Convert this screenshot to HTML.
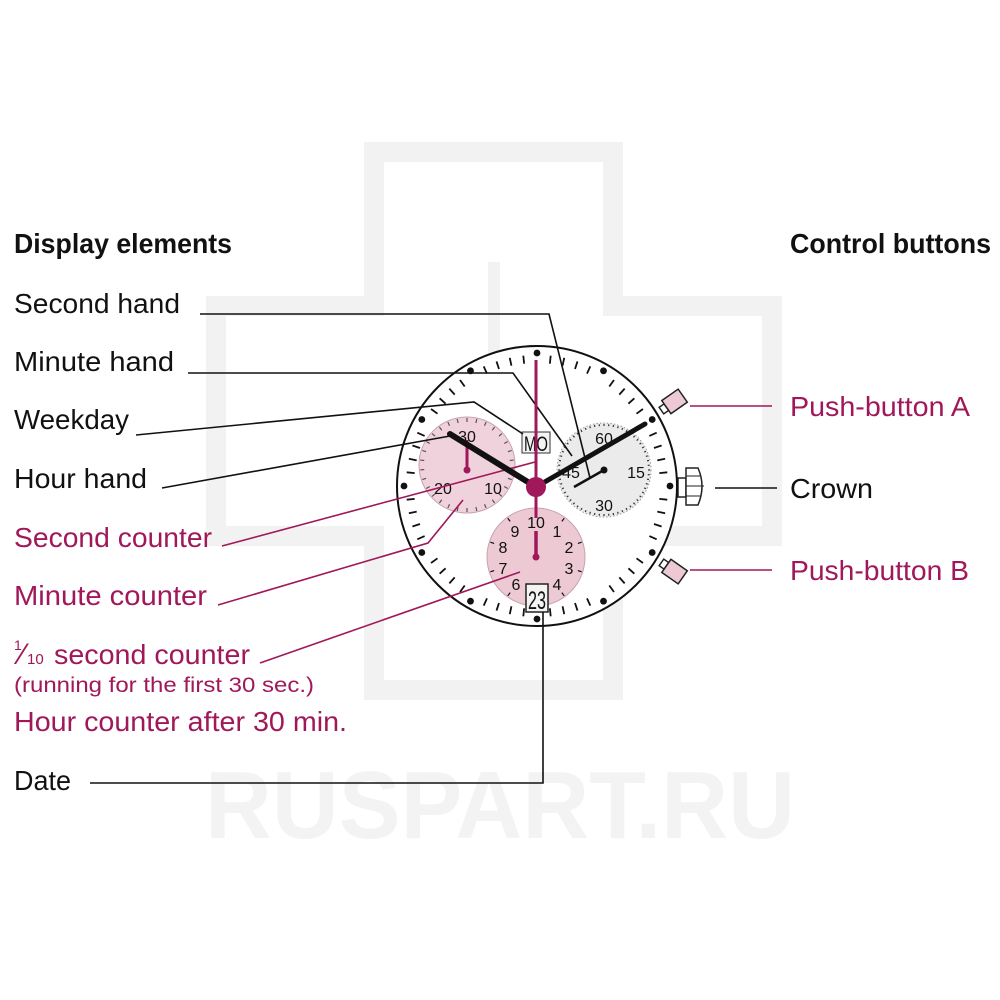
<!DOCTYPE html>
<html><head><meta charset="utf-8"><style>
html,body{margin:0;padding:0;background:#fff}
svg{display:block}
text{font-family:"Liberation Sans",sans-serif}
</style></head><body>
<svg id="s" width="1000" height="1000" viewBox="0 0 1000 1000" xmlns="http://www.w3.org/2000/svg">
<!-- watermark -->
<g fill="none" stroke="#f2f2f2" stroke-width="20">
<path d="M374 152 H613 V306 H772 V536 H613 V690 H374 V536 H216 V306 H374 Z"/>
<path d="M494 262 V420" stroke-width="12"/>
</g>
<text x="500" y="838" text-anchor="middle" font-size="96" font-weight="bold" fill="#f3f3f3" textLength="590" lengthAdjust="spacingAndGlyphs">RUSPART.RU</text>

<!-- labels -->
<g font-size="28" fill="#111">
<text x="14" y="253" font-weight="bold" textLength="218" lengthAdjust="spacingAndGlyphs">Display elements</text>
<text x="790" y="253" font-weight="bold" textLength="201" lengthAdjust="spacingAndGlyphs">Control buttons</text>
<text x="14" y="313" textLength="166" lengthAdjust="spacingAndGlyphs">Second hand</text>
<text x="14" y="371" textLength="160" lengthAdjust="spacingAndGlyphs">Minute hand</text>
<text x="14" y="429" textLength="115" lengthAdjust="spacingAndGlyphs">Weekday</text>
<text x="14" y="488" textLength="133" lengthAdjust="spacingAndGlyphs">Hour hand</text>
<text x="14" y="790" textLength="57" lengthAdjust="spacingAndGlyphs">Date</text>
<text x="790" y="498" textLength="83" lengthAdjust="spacingAndGlyphs">Crown</text>
</g>
<g font-size="28" fill="#a0185a">
<text x="14" y="547" textLength="198" lengthAdjust="spacingAndGlyphs">Second counter</text>
<text x="14" y="605" textLength="193" lengthAdjust="spacingAndGlyphs">Minute counter</text>
<text x="14" y="650" font-size="14">1</text>
<text x="20" y="664" font-size="30">⁄</text>
<text x="27" y="664" font-size="15">10</text>
<text x="54" y="664" textLength="196" lengthAdjust="spacingAndGlyphs">second counter</text>
<text x="14" y="692" font-size="21" textLength="300" lengthAdjust="spacingAndGlyphs">(running for the first 30 sec.)</text>
<text x="14" y="731" textLength="333" lengthAdjust="spacingAndGlyphs">Hour counter after 30 min.</text>
<text x="790" y="416" textLength="180" lengthAdjust="spacingAndGlyphs">Push-button A</text>
<text x="790" y="580" textLength="179" lengthAdjust="spacingAndGlyphs">Push-button B</text>
</g>

<!-- buttons -->
<g stroke="#222" stroke-width="1.5">
<g transform="translate(668,406) rotate(-35)"><rect x="-8" y="-4" width="6" height="8" fill="#fff"/><rect x="-2" y="-8" width="20" height="16" fill="#ecc9d3"/></g>
<g transform="translate(668,567) rotate(35)"><rect x="-8" y="-4" width="6" height="8" fill="#fff"/><rect x="-2" y="-8" width="20" height="16" fill="#ecc9d3"/></g>
<rect x="678" y="478" width="8" height="19" fill="#fff"/>
<path d="M686 468 H698 Q706 486 698 505 H686 Z" fill="#fff"/>
<path d="M686 476 H701 M686 486 H704 M686 496 H701" fill="none" stroke-width="1"/>
</g>

<!-- case -->
<circle cx="537" cy="486" r="140" fill="#fff" stroke="#111" stroke-width="2"/>
<g id="ticks"></g>

<!-- subdials -->
<circle cx="467" cy="465" r="48" fill="#f0d2dc" stroke="#c9a0b0" stroke-width="1"/>
<circle cx="604" cy="470" r="47" fill="#ebebeb" stroke="#999" stroke-width="1" stroke-dasharray="1.5 2"/>
<circle cx="536" cy="557" r="49" fill="#ecc9d3" stroke="#c9a0b0" stroke-width="1"/>
<g id="subt"></g>
<g font-size="16" fill="#111" text-anchor="middle">
<text x="467" y="442">30</text><text x="443" y="494">20</text><text x="493" y="494">10</text>
<text x="604" y="444">60</text><text x="636" y="478">15</text><text x="604" y="511">30</text><text x="571" y="478">45</text>
<text x="536" y="528">10</text><text x="557" y="537">1</text><text x="569" y="553">2</text>
<text x="569" y="574">3</text><text x="557" y="590">4</text><text x="516" y="590">6</text>
<text x="503" y="574">7</text><text x="503" y="553">8</text><text x="515" y="537">9</text>
</g>
<rect x="522" y="432" width="28" height="21" fill="#f3f3f3" stroke="#333" stroke-width="1"/>
<text x="536" y="451" font-size="21" text-anchor="middle" fill="#111" textLength="24" lengthAdjust="spacingAndGlyphs">MO</text>
<rect x="526" y="584" width="22" height="28" fill="#f3f3f3" stroke="#222" stroke-width="1.5"/>
<text x="537" y="609" font-size="25" text-anchor="middle" fill="#111" textLength="18" lengthAdjust="spacingAndGlyphs">23</text>

<!-- leaders -->
<g fill="none" stroke="#111" stroke-width="1.6">
<path d="M200 314 H549 L590 478"/>
<path d="M188 373 H513 L572 456"/>
<path d="M136 435 L474 402 L523 434"/>
<path d="M162 488 L450 436"/>
<path d="M90 783 H543 V612"/>
<path d="M715 488 H777"/>
</g>
<g fill="none" stroke="#a0185a" stroke-width="1.6">
<path d="M222 546 L535 462"/>
<path d="M218 605 L428 543 L463 500"/>
<path d="M260 663 L520 572"/>
<path d="M690 406 H772"/>
<path d="M690 570 H772"/>
</g>

<!-- hands -->
<line x1="467" y1="440" x2="467" y2="470" stroke="#a0185a" stroke-width="3"/>
<circle cx="467" cy="470" r="3.5" fill="#a0185a"/>
<line x1="604" y1="470" x2="574" y2="487" stroke="#111" stroke-width="2.5"/>
<circle cx="604" cy="470" r="3.5" fill="#111"/>
<line x1="536" y1="531" x2="536" y2="557" stroke="#a0185a" stroke-width="3.5"/>
<circle cx="536" cy="557" r="3.5" fill="#a0185a"/>
<line x1="536" y1="487" x2="450" y2="434" stroke="#111" stroke-width="6" stroke-linecap="round"/>
<line x1="536" y1="487" x2="645" y2="424" stroke="#111" stroke-width="5" stroke-linecap="round"/>
<line x1="536" y1="360" x2="536" y2="518" stroke="#a0185a" stroke-width="3"/>
<circle cx="536" cy="487" r="10" fill="#a0185a"/>
</svg>
<script>
(function(){
var ns="http://www.w3.org/2000/svg",g=document.getElementById("ticks"),cx=537,cy=486;
for(var i=0;i<60;i++){var a=i*Math.PI/30,s=Math.sin(a),c=-Math.cos(a);
if(i%5==0){var d=document.createElementNS(ns,"circle");d.setAttribute("cx",cx+133*s);d.setAttribute("cy",cy+133*c);d.setAttribute("r",3.4);d.setAttribute("fill","#111");g.appendChild(d);}
else{var l=document.createElementNS(ns,"line");l.setAttribute("x1",cx+123*s);l.setAttribute("y1",cy+123*c);l.setAttribute("x2",cx+131*s);l.setAttribute("y2",cy+131*c);l.setAttribute("stroke","#111");l.setAttribute("stroke-width",1.8);g.appendChild(l);}}
var t=document.getElementById("subt");
function sub(x,y,r,n,len,col){for(var i=0;i<n;i++){var a=i*2*Math.PI/n,s=Math.sin(a),c=-Math.cos(a);var l=document.createElementNS(ns,"line");l.setAttribute("x1",x+(r-len)*s);l.setAttribute("y1",y+(r-len)*c);l.setAttribute("x2",x+(r-1)*s);l.setAttribute("y2",y+(r-1)*c);l.setAttribute("stroke",col);l.setAttribute("stroke-width",1.2);t.appendChild(l);}}
sub(467,465,48,30,5,"#555");sub(604,470,47,60,3,"#333");sub(536,557,49,10,5,"#111");
})();
</script>
</body></html>
